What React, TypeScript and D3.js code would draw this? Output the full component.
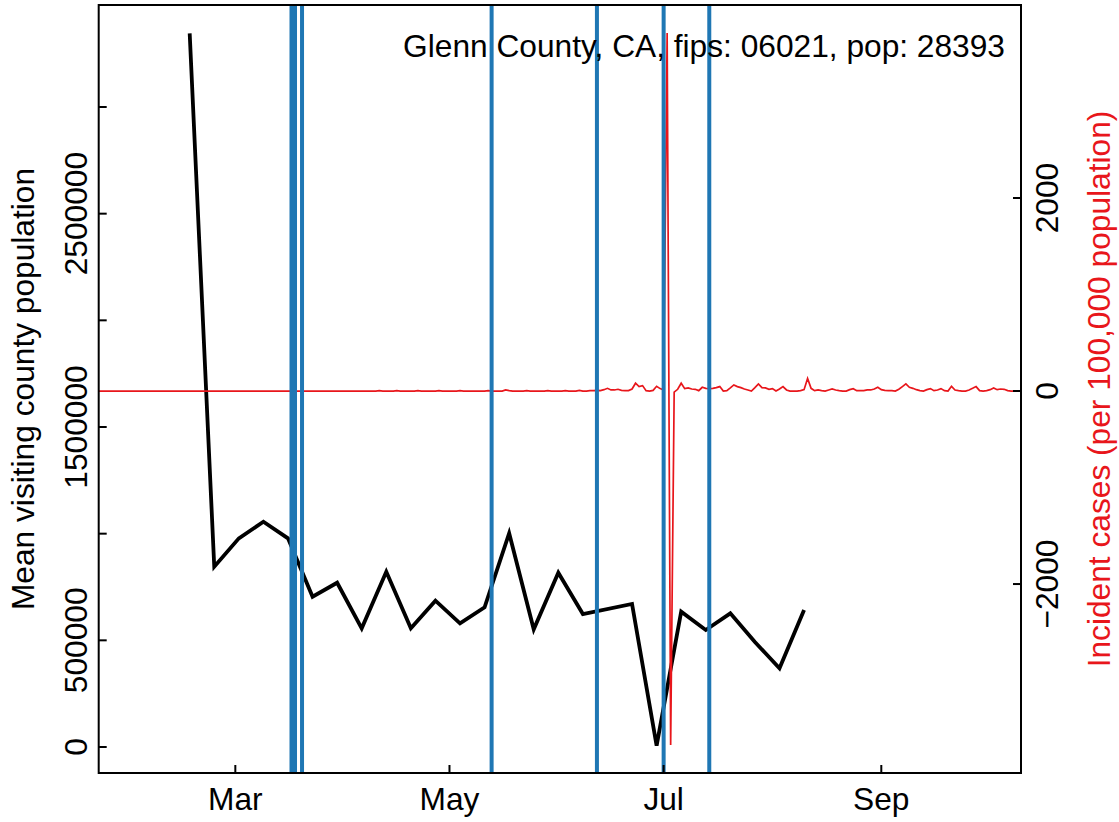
import React from "react";
import * as d3 from "d3";

const TITLE = "Glenn County, CA, fips: 06021, pop: 28393";
const Y_LEFT_LABEL = "Mean visiting county population";
const Y_RIGHT_LABEL = "Incident cases (per 100,000 population)";

// weekly mean visiting population (black line)
const visitDates = [
  "2020-02-17", "2020-02-24", "2020-03-02", "2020-03-09", "2020-03-16", "2020-03-23",
  "2020-03-30", "2020-04-06", "2020-04-13", "2020-04-20", "2020-04-27", "2020-05-04",
  "2020-05-11", "2020-05-18", "2020-05-25", "2020-06-01", "2020-06-08", "2020-06-22",
  "2020-06-29", "2020-07-06", "2020-07-13", "2020-07-20", "2020-07-27", "2020-08-03",
  "2020-08-10",
];
const visitValues = [
  3345000, 845000, 978000, 1056000, 978000, 704500,
  770000, 556400, 821700, 556400, 685800, 579800,
  654800, 1001700, 551700, 817000, 623400, 670300,
  6100, 634200, 548400, 626700, 492200, 368900,
  642200,
];

// daily incident cases per 100,000 (red line), starting at caseStart
const caseStart = "2020-01-22";
const caseValues = [
  // Jan 22 - Apr 9
  0, 0, 0, 0, 0, 0, 0, 0, 0, 0,
  0, 0, 0, 0, 0, 0, 0, 0, 0, 0,
  0, 0, 0, 0, 0, 0, 0, 0, 0, 0,
  0, 0, 0, 0, 0, 0, 0, 0, 0, 0,
  0, 0, 0, 0, 0, 0, 0, 0, 0, 0,
  0, 0, 0, 0, 0, 0, 0, 0, 0, 0,
  0, 0, 0, 0, 0, 0, 0, 0, 0, 0,
  0, 0, 0, 0, 0, 0, 0, 0, 0,
  // Apr 10 - Jun 11
  0, 4, 0, 0, 0, 0, 4, 0, 0, 0,
  0, 0, 4, 0, 0, 0, 0, 0, 4, 0,
  0, 0, 0, 0, 4, 0, 0, 0, 0, 0,
  0, 0, 4, 0, 0, 0, 0, 11, 4, 0,
  0, 0, 0, 4, 0, 0, 0, 0, 0, 4,
  0, 0, 0, 0, 4, 0, 0, 0, 7, 0,
  0, 4, 4,
  // Jun 12 - Oct 11
  7, 4, 14, 28, 11, 11, 18, 7, 4, 4,
  21, 81, 46, 56, 4, 0, 7, 49, 25, 11,
  3710, -3668, -11, 18, 81, 25, 32, 21, 18, 4,
  39, 28, 25, 28, 35, 46, 0, 4, 32, 63,
  46, 35, 21, 11, 0, 35, 74, 35, 32, 18,
  25, 0, 21, 46, 11, 0, 0, 0, 4, 14,
  131, 28, 4, 11, 4, 0, 11, 21, 11, 4,
  0, 0, 14, 24, 4, 4, 4, 11, 11, 21,
  39, 14, 7, 4, 4, 0, 18, 46, 74, 39,
  28, 14, 4, 0, 14, 25, 4, 11, 25, 4,
  0, 49, 11, 4, 0, 0, 11, 28, 46, 4,
  0, 4, 14, 32, 14, 21, 18, 4, 0, 0,
  0, 0,
];

// policy event dates (blue vertical lines)
const policyDates = [
  "2020-03-17", "2020-03-18", "2020-03-20", "2020-05-13",
  "2020-06-12", "2020-07-01", "2020-07-14",
];

const xTickDates = ["2020-03-01", "2020-05-01", "2020-07-01", "2020-09-01"];
const xTickLabels = ["Mar", "May", "Jul", "Sep"];
const leftTicks = [0, 500000, 1000000, 1500000, 2000000, 2500000, 3000000];
const leftTickLabels = ["0", "500000", "", "1500000", "", "2500000", ""];
const rightTicks = [-2000, 0, 2000];
const rightTickLabels = ["\u22122000", "0", "2000"];

const W = 1119;
const H = 822;
const L = 98.7;
const R = 1021;
const T = 5;
const B = 773;
const FONT = "'Liberation Sans', Arial, Helvetica, sans-serif";
const FS = 31.7;
const BLUE = "#1f77b4";
const RED = "#e8161b";

export default function App() {
  const parse = d3.timeParse("%Y-%m-%d");
  const x = d3
    .scaleTime()
    .domain([new Date(2020, 0, 22, 2), new Date(2020, 9, 10, 19)])
    .range([L, R]);
  const yL = d3.scaleLinear().domain([-121875, 3478125]).range([B, T]);
  const yR = d3.scaleLinear().domain([-3958, 4000]).range([B, T]);

  const visits = visitDates.map((d, i) => ({ date: parse(d) as Date, v: visitValues[i] }));
  const start = parse(caseStart) as Date;
  const cases = caseValues.map((v, i) => ({ date: d3.timeDay.offset(start, i), v }));

  const blackPath = d3
    .line<{ date: Date; v: number }>()
    .x((d) => x(d.date))
    .y((d) => yL(d.v))(visits) as string;
  const redPath = d3
    .line<{ date: Date; v: number }>()
    .x((d) => x(d.date))
    .y((d) => yR(d.v))(cases) as string;

  const tick = 8;

  return (
    <svg
      width={W}
      height={H}
      style={{ position: "absolute", left: 0, top: 0, background: "#fff" }}
      fontFamily={FONT}
    >
      <defs>
        <clipPath id="plotclip">
          <rect x={L} y={T} width={R - L} height={B - T} />
        </clipPath>
      </defs>
      <rect x={0} y={0} width={W} height={H} fill="#fff" />
      <g clipPath="url(#plotclip)">
        <path d={blackPath} fill="none" stroke="#000" strokeWidth={3.8} strokeLinejoin="miter" />
        <path d={redPath} fill="none" stroke={RED} strokeWidth={1.7} />
        {policyDates.map((d, i) => {
          const px = x(parse(d) as Date);
          return <line key={i} x1={px} x2={px} y1={T} y2={B} stroke={BLUE} strokeWidth={4} />;
        })}
      </g>
      <rect x={L} y={T} width={R - L} height={B - T} fill="none" stroke="#000" strokeWidth={2} />
      {/* bottom axis */}
      {xTickDates.map((d, i) => {
        const px = x(parse(d) as Date);
        return (
          <g key={i}>
            <line x1={px} x2={px} y1={B} y2={B - tick} stroke="#000" strokeWidth={2} />
            <text x={px} y={810} textAnchor="middle" fontSize={FS} fill="#000">
              {xTickLabels[i]}
            </text>
          </g>
        );
      })}
      {/* left axis */}
      {leftTicks.map((t, i) => {
        const py = yL(t);
        return (
          <g key={i}>
            <line x1={L} x2={L + tick} y1={py} y2={py} stroke="#000" strokeWidth={2} />
            {leftTickLabels[i] && (
              <text
                transform={`translate(87.3,${py}) rotate(-90)`}
                textAnchor="middle"
                fontSize={FS}
                fill="#000"
              >
                {leftTickLabels[i]}
              </text>
            )}
          </g>
        );
      })}
      {/* right axis */}
      {rightTicks.map((t, i) => {
        const py = yR(t);
        return (
          <g key={i}>
            <line x1={R} x2={R - tick} y1={py} y2={py} stroke="#000" strokeWidth={2} />
            <text
              transform={`translate(1058.3,${py}) rotate(-90)`}
              textAnchor="middle"
              fontSize={FS}
              fill="#000"
            >
              {rightTickLabels[i]}
            </text>
          </g>
        );
      })}
      <text
        transform={`translate(33.5,${(T + B) / 2}) rotate(-90)`}
        textAnchor="middle"
        fontSize={FS}
        fill="#000"
      >
        {Y_LEFT_LABEL}
      </text>
      <text
        transform={`translate(1110,${(T + B) / 2}) rotate(-90)`}
        textAnchor="middle"
        fontSize={FS}
        fill={RED}
      >
        {Y_RIGHT_LABEL}
      </text>
      <text x={1005} y={56.7} textAnchor="end" fontSize={FS} fill="#000">
        {TITLE}
      </text>
    </svg>
  );
}
